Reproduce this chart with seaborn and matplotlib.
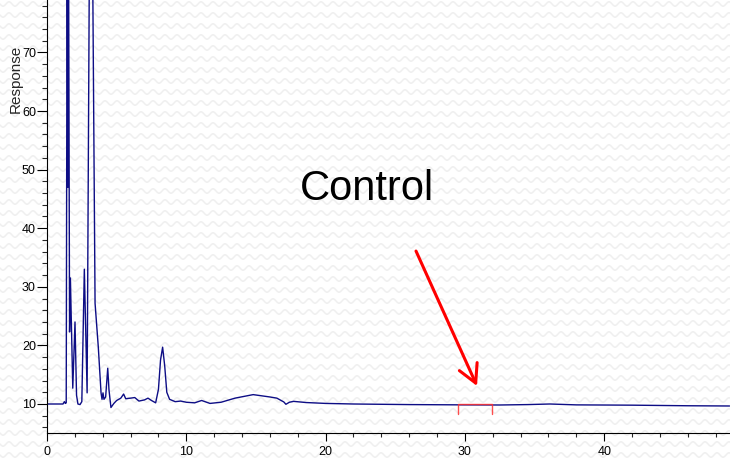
import numpy as np
import pandas as pd
import matplotlib
matplotlib.use("Agg")
import matplotlib.pyplot as plt
from matplotlib.lines import Line2D
from matplotlib.ticker import MultipleLocator
import seaborn as sns

# ---- data ----
time = [0.0, 1.15, 1.25, 1.32, 1.38, 1.45, 1.50, 1.54, 1.62, 1.68, 1.85, 2.01, 2.12,
        2.22, 2.37, 2.50, 2.68, 2.88, 3.14, 3.45, 3.68, 3.88, 3.95, 4.02, 4.09, 4.21,
        4.36, 4.45, 4.59, 4.8, 5.0, 5.3, 5.5, 5.65, 6.0, 6.3, 6.6, 7.0, 7.25, 7.5,
        7.8, 8.0, 8.15, 8.3, 8.45, 8.6, 8.8, 9.2, 9.6, 10.0, 10.6, 11.1, 11.7, 12.5,
        13.5, 14.8, 16.0, 16.5, 17.0, 17.15, 17.4, 17.7, 18.6, 20.0, 22.0, 26.0,
        30.0, 32.5, 34.5, 36.1, 38.0, 42.0, 46.0, 49.0]
response = [10.0, 10.0, 10.4, 10.1, 10.2, 95.0, 47.0, 95.0, 22.3, 31.5, 12.7, 24.0, 11.5,
            10.0, 9.9, 10.4, 33.0, 11.9, 130.0, 27.2, 19.8, 11.9, 10.8, 11.9, 10.8, 11.2,
            16.1, 12.4, 9.4, 10.1, 10.6, 11.0, 11.7, 10.9, 11.0, 11.1, 10.5, 10.7, 11.0, 10.6,
            10.2, 12.5, 17.5, 19.7, 16.5, 12.0, 10.8, 10.4, 10.5, 10.3, 10.2, 10.6, 10.1, 10.3,
            11.0, 11.6, 11.2, 11.0, 10.35, 9.95, 10.3, 10.45, 10.25, 10.1, 10.0, 9.9,
            9.85, 9.83, 9.9, 10.0, 9.85, 9.8, 9.7, 9.66]

x_ticks = [0, 10, 20, 30, 40]
y_ticks = [10, 20, 30, 40, 50, 60, 70]

label_text = "Control"
y_label = "Response"

bracket_x = [29.5, 31.95]
bracket_level = 9.95
bracket_foot = 8.3

arrow_start = (26.49, 36.1)
arrow_end = (30.87, 13.07)

# ---- style ----
sns.set_style("ticks")
plt.rcParams["font.family"] = ["Liberation Sans", "DejaVu Sans"]

W, H = 730, 459
fig = plt.figure(figsize=(W / 100, H / 100), dpi=100)
fig.patch.set_facecolor("white")

# subtle wavy background texture
xs = np.arange(0, W + 1, 0.5)
for r in np.arange(4, H + 12, 11):
    ys = r + 2.2 * np.sin(2 * np.pi * xs / 12.0)
    fig.add_artist(Line2D(xs / W, 1 - ys / H, transform=fig.transFigure,
                          color="#efefef", lw=1.1, zorder=-5))

ax = fig.add_axes([47 / W, (H - 433.3) / H, 683 / W, 433.3 / H])
ax.set_facecolor("none")

df = pd.DataFrame({"time": time, "response": response})
sns.lineplot(data=df, x="time", y="response", ax=ax, color="#0d0d85",
             lw=1.0, sort=False, estimator=None)

ax.set_xlim(0, 683 / 13.93)
ax.set_ylim(5, 5 + 433.3 / 5.86)

ax.set_xticks(x_ticks)
ax.set_yticks(y_ticks)
ax.xaxis.set_minor_locator(MultipleLocator(2))
ax.yaxis.set_minor_locator(MultipleLocator(2))
ax.tick_params(axis="y", which="major", direction="out", length=7, width=0.8,
               labelsize=9, pad=1, colors="black")
ax.tick_params(axis="y", which="minor", direction="out", length=3.5, width=0.8)
ax.tick_params(axis="x", which="major", direction="out", length=6, width=0.8,
               labelsize=9, pad=3, colors="black")
ax.tick_params(axis="x", which="minor", direction="out", length=3, width=0.8)

for s in ["top", "right"]:
    ax.spines[s].set_visible(False)
for s in ["left", "bottom"]:
    ax.spines[s].set_color("black")
    ax.spines[s].set_linewidth(0.8)

ax.set_xlabel("")
ax.set_ylabel("")
fig.text(16 / W, 1 - 79 / H, y_label, rotation=90, ha="center", va="center",
         fontsize=11)

ax.text(22.97, 44.8, label_text, ha="center", va="baseline", fontsize=30,
        color="black")

# red bracket
ax.plot([bracket_x[0], bracket_x[0], bracket_x[1], bracket_x[1]],
        [bracket_foot, bracket_level, bracket_level, bracket_foot],
        color="#ff3030", lw=1.0, alpha=0.85)

# red arrow
ax.annotate("", xy=arrow_end, xytext=arrow_start,
            arrowprops=dict(arrowstyle="->,head_length=1.3,head_width=0.7",
                            color="red", lw=2.2, mutation_scale=10,
                            shrinkA=0, shrinkB=0))

fig.savefig("out.png", dpi=100)
